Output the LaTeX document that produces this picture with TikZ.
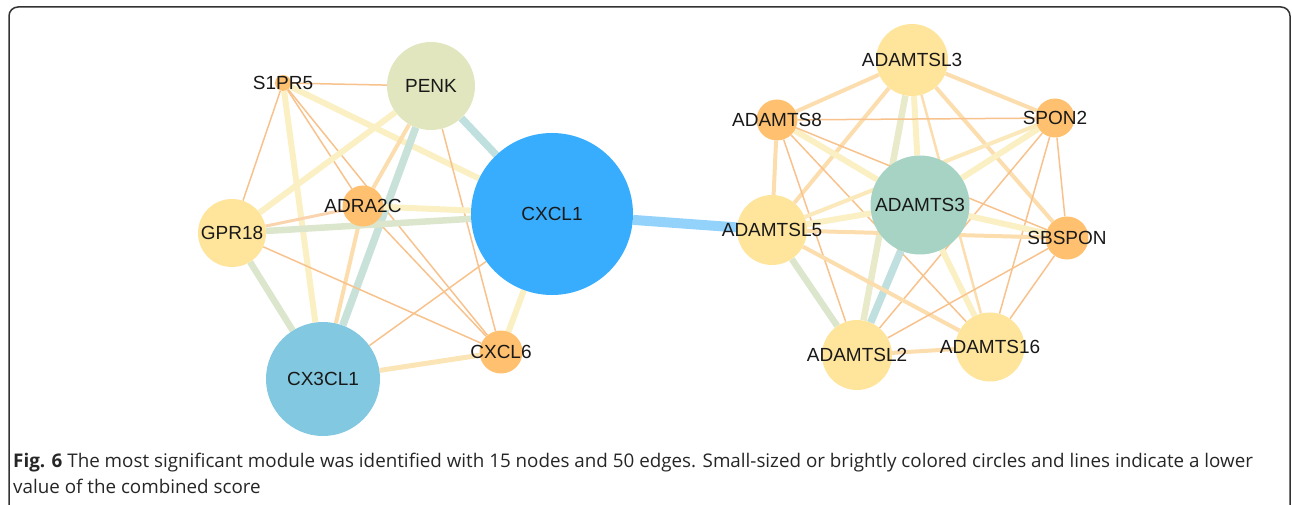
\documentclass[tikz,border=0pt]{standalone}
\usepackage{fontspec}
\setmainfont{Liberation Sans}
\newfontfamily\capfont{Open Sans}
\usetikzlibrary{backgrounds,positioning}

\definecolor{orball}{HTML}{FFC170}
\definecolor{yeball}{HTML}{FFE49C}
\definecolor{penkball}{HTML}{E1E6BF}
\definecolor{hubball}{HTML}{38ADFD}
\definecolor{cxball}{HTML}{82C8E0}
\definecolor{adball}{HTML}{A6D3C4}
\definecolor{lothin}{HTML}{F8C28C}
\definecolor{midor}{HTML}{FCDDAE}
\definecolor{paley}{HTML}{FAF0C4}
\definecolor{paleg}{HTML}{DCE6CD}
\definecolor{palet}{HTML}{BFE0DF}
\definecolor{paleb}{HTML}{92D2FB}
\definecolor{framecol}{HTML}{333333}

\tikzset{
  ball/.style={circle, inner sep=0pt, minimum size=#1},
  gname/.style={font=\fontsize{19}{22}\selectfont, text=black!90, inner sep=0pt},
  lo/.style={draw=lothin, line width=1.5pt},
  md/.style={draw=midor, line width=4pt},
  hy/.style={draw=paley, line width=6pt},
  hg/.style={draw=paleg, line width=6.5pt},
  ht/.style={draw=palet, line width=7.5pt},
  hb/.style={draw=paleb, line width=10pt},
  figcap/.style={font=\capfont\fontsize{18.8}{22}\selectfont, text=black!85, inner sep=0pt}
}

\begin{document}
\begin{tikzpicture}[x=1pt,y=-1pt]
\useasboundingbox (0,0) rectangle (1292,505);
\draw[framecol, line width=1.5pt, rounded corners=9pt] (9,520) -- (9,7) -- (1290,7) -- (1290,520);

% left module
\node[ball=16pt, fill=orball] (s1pr5) at (283,83) {};
\node[ball=88pt, fill=penkball] (penk) at (431,86) {};
\node[ball=162pt, fill=hubball] (cxcl1) at (552,214) {};
\node[ball=41pt, fill=orball] (adra2c) at (363,206) {};
\node[ball=68pt, fill=yeball] (gpr18) at (232,233) {};
\node[ball=114pt, fill=cxball] (cx3cl1) at (323,379) {};
\node[ball=43pt, fill=orball] (cxcl6) at (501,352) {};

% right module
\node[ball=72pt, fill=yeball] (adamtsl3) at (912,60) {};
\node[ball=41pt, fill=orball] (adamts8) at (777,120) {};
\node[ball=39pt, fill=orball] (spon2) at (1055,118) {};
\node[ball=99pt, fill=adball] (adamts3) at (920,205) {};
\node[ball=70pt, fill=yeball] (adamtsl5) at (772,230) {};
\node[ball=43pt, fill=orball] (sbspon) at (1067,238) {};
\node[ball=70pt, fill=yeball] (adamtsl2) at (857,355) {};
\node[ball=69pt, fill=yeball] (adamts16) at (990,347) {};

\begin{pgfonlayer}{background}
\draw[lo] (s1pr5) -- (penk);
\draw[lo] (s1pr5) -- (gpr18);
\draw[lo] (s1pr5) -- (adra2c);
\draw[lo] (s1pr5) -- (cxcl6);
\draw[hy] (s1pr5) -- (cx3cl1);
\draw[hy] (s1pr5) -- (cxcl1);
\draw[hy] (penk) -- (gpr18);
\draw[md] (penk) -- (adra2c);
\draw[ht, draw=palet!70!paleg] (penk) -- (cx3cl1);
\draw[ht] (penk) -- (cxcl1);
\draw[lo] (penk) -- (cxcl6);
\draw[lo, line width=3pt, draw=lothin!70] (adra2c) -- (gpr18);
\draw[hy] (adra2c) -- (cxcl1);
\draw[md] (adra2c) -- (cx3cl1);
\draw[lo] (adra2c) -- (cxcl6);
\draw[hg] (gpr18) -- (cxcl1);
\draw[hg] (gpr18) -- (cx3cl1);
\draw[lo] (gpr18) -- (cxcl6);
\draw[lo] (cx3cl1) -- (cxcl1);
\draw[md, line width=5pt, draw=midor!60!paley] (cx3cl1) -- (cxcl6);
\draw[hy] (cxcl1) -- (cxcl6);
% bridge
\draw[hb] (cxcl1) -- (adamtsl5);
% right edges
\draw[md] (adamtsl3) -- (adamts8);
\draw[md] (adamtsl3) -- (spon2);
\draw[md] (adamtsl3) -- (adamtsl5);
\draw[hy] (adamtsl3) -- (adamts3);
\draw[hg, draw=paleg!60!paley] (adamtsl3) -- (adamtsl2);
\draw[lo, line width=2.5pt, draw=midor] (adamtsl3) -- (adamts16);
\draw[md] (adamtsl3) -- (sbspon);
\draw[lo] (adamts8) -- (spon2);
\draw[hy] (adamts8) -- (adamts3);
\draw[md] (adamts8) -- (adamtsl5);
\draw[lo] (adamts8) -- (sbspon);
\draw[lo] (adamts8) -- (adamtsl2);
\draw[lo] (adamts8) -- (adamts16);
\draw[hy] (spon2) -- (adamts3);
\draw[md, draw=paley!60!midor] (spon2) -- (adamtsl5);
\draw[lo] (spon2) -- (sbspon);
\draw[lo] (spon2) -- (adamtsl2);
\draw[lo] (spon2) -- (adamts16);
\draw[hy] (adamts3) -- (adamtsl5);
\draw[hy] (adamts3) -- (sbspon);
\draw[ht] (adamts3) -- (adamtsl2);
\draw[hy] (adamts3) -- (adamts16);
\draw[md] (adamtsl5) -- (sbspon);
\draw[hg] (adamtsl5) -- (adamtsl2);
\draw[md] (adamtsl5) -- (adamts16);
\draw[lo] (sbspon) -- (adamtsl2);
\draw[lo] (sbspon) -- (adamts16);
\draw[md] (adamtsl2) -- (adamts16);
\end{pgfonlayer}

% gene names
\node[gname] (s1pr5-t) at (s1pr5) {S1PR5};
\node[gname] (penk-t) at (penk) {PENK};
\node[gname] (cxcl1-t) at (cxcl1) {CXCL1};
\node[gname] (adra2c-t) at (adra2c) {ADRA2C};
\node[gname] (gpr18-t) at (gpr18) {GPR18};
\node[gname] (cx3cl1-t) at (cx3cl1) {CX3CL1};
\node[gname] (cxcl6-t) at (cxcl6) {CXCL6};
\node[gname] (adamtsl3-t) at (adamtsl3) {ADAMTSL3};
\node[gname] (adamts8-t) at (adamts8) {ADAMTS8};
\node[gname] (spon2-t) at (spon2) {SPON2};
\node[gname] (adamts3-t) at (adamts3) {ADAMTS3};
\node[gname] (adamtsl5-t) at (adamtsl5) {ADAMTSL5};
\node[gname] (sbspon-t) at (sbspon) {SBSPON};
\node[gname] (adamtsl2-t) at (adamtsl2) {ADAMTSL2};
\node[gname] (adamts16-t) at (adamts16) {ADAMTS16};

% caption
\node[figcap, anchor=base west] (cap1) at (13,467) {\textbf{Fig. 6} The most significant module was identified with 15 nodes and 50 edges. Small-sized or brightly colored circles and lines indicate a lower};
\node[figcap, anchor=base west] (cap2) at ([yshift=-26pt]cap1.base west) {value of the combined score};
\end{tikzpicture}
\end{document}
